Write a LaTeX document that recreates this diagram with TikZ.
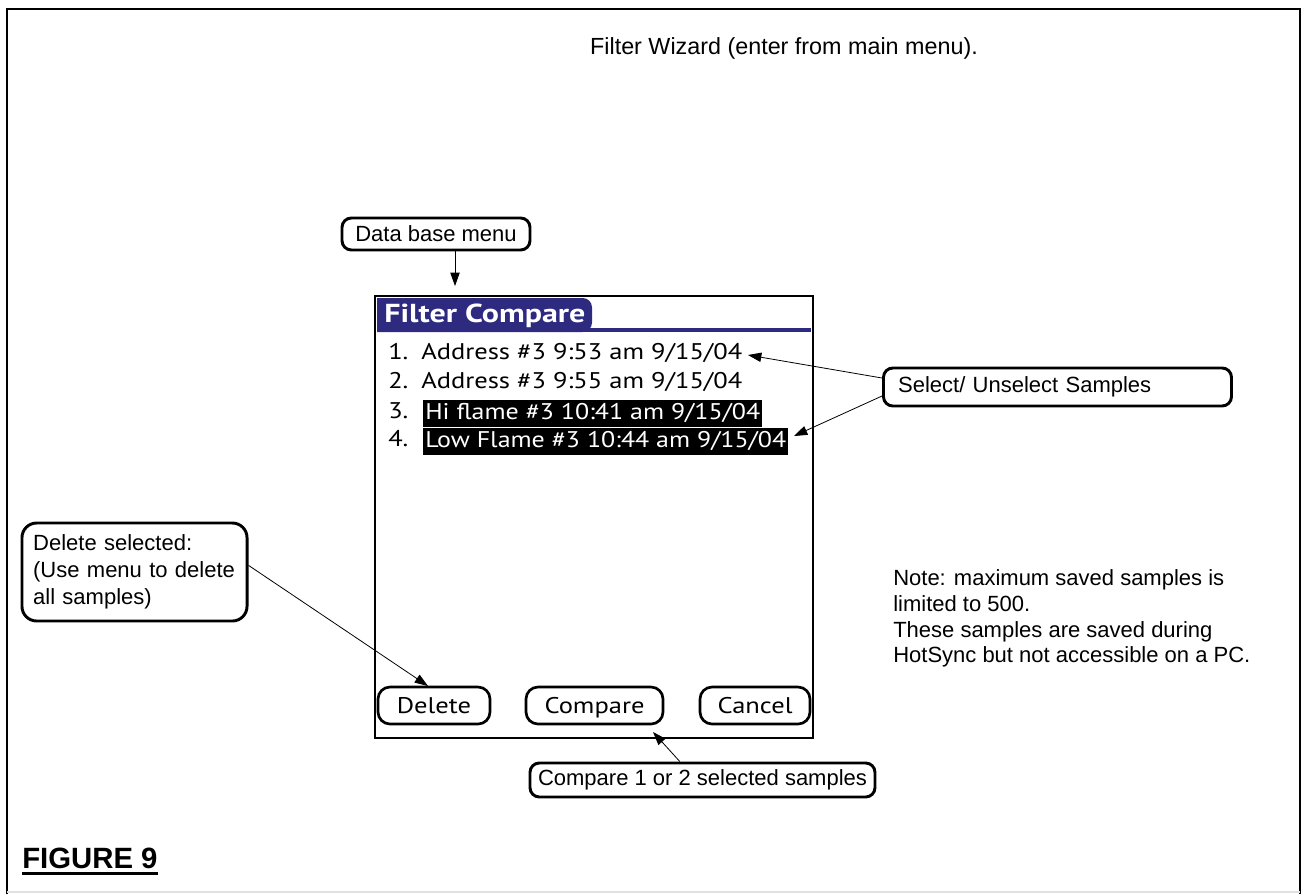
\documentclass[tikz,border=0pt]{standalone}
\usepackage{fontspec}
\setmainfont{Liberation Sans}
\newfontfamily\palmfont[FakeStretch=1.17]{PT Sans}
\newfontfamily\hlfont[FakeStretch=1.145]{PT Sans}
\newfontfamily\tabfont[FakeStretch=1.23]{PT Sans}
\usetikzlibrary{arrows.meta,calc}
\definecolor{tabblue}{HTML}{2E2A80}
\tikzset{
  callout/.style={draw, line width=2.2pt, rounded corners=7pt, inner sep=0pt,
    font=\fontsize{16.5}{19.5}\selectfont},
  plain/.style={inner sep=0pt, font=\fontsize{16.5}{19.5}\selectfont},
  arr/.style={line width=0.6pt, -{Triangle[length=10pt,width=7pt]}},
  palm/.style={inner sep=0pt, font=\palmfont\fontsize{17}{20}\selectfont, text height=12pt, text depth=3pt},
  hl/.style={inner sep=0pt, font=\hlfont\fontsize{17}{20}\selectfont, text height=12pt, text depth=3pt,
    fill=black, text=white, inner xsep=1.5pt, minimum height=20pt},
  btn/.style={draw, line width=2pt, rounded corners=9pt, inner sep=0pt, minimum height=27.75pt,
    text height=13pt, text depth=1.5pt, font=\palmfont\fontsize{17}{20}\selectfont},
}
\begin{document}
\begin{tikzpicture}[x=0.75pt,y=-0.75pt]
\useasboundingbox (0,0) rectangle (1303,894);
% outer frame
\draw[line width=2.2pt] (7,894) -- (7,9) -- (1300,9) -- (1300,894);
\draw[line width=1pt, black!12] (7,892) -- (1300,892);

% title
\node[plain, font=\fontsize{17.5}{20}\selectfont] (title) at (784,48) {Filter Wizard (enter from main menu).};

% data base menu
\node[callout, minimum width=141pt, minimum height=24pt] (db) at (436,234) {Data base menu};
\coordinate (dbtip) at (455,286);
\draw[arr] (db.south -| dbtip) -- (dbtip);

% phone screen
\node[draw, line width=2.2pt, minimum width=328.5pt, minimum height=331.5pt, inner sep=0pt] (screen) at (594,517) {};
\fill[tabblue] (377,332) -- (377,298) {[rounded corners=7pt] -- (592,298) -- (592,332)} -- cycle;
\fill[tabblue] (377,328) rectangle (811,332);
\node[anchor=west, inner sep=0pt, text=white, font=\tabfont\bfseries\fontsize{19.5}{22}\selectfont] (tab) at (384,316) {Filter Compare};

% rows
\node[palm, anchor=west] (n1) at (388,353) {1.};
\node[palm, anchor=west] (row1) at (421,353) {Address \#3 9:53 am 9/15/04};
\node[palm, anchor=west] (n2) at (388,382) {2.};
\node[palm, anchor=west] (row2) at (421,382) {Address \#3 9:55 am 9/15/04};
\node[palm, anchor=west] (n3) at (388,412) {3.};
\node[hl, anchor=west] (row3) at (423,413.5) {Hi flame \#3 10:41 am 9/15/04};
\node[palm, anchor=west] (n4) at (388,440) {4.};
\node[hl, anchor=west] (row4) at (423,441.5) {Low Flame \#3 10:44 am 9/15/04};

% buttons
\node[btn, minimum width=84pt] (delbtn) at (434,705.5) {Delete};
\node[btn, minimum width=102.75pt] (cmpbtn) at (594.5,705.5) {Compare};
\node[btn, minimum width=82.5pt] (canbtn) at (755,705.5) {Cancel};

% select / unselect
\node[callout, anchor=west, minimum height=28.5pt, text width=239pt, inner xsep=11pt, align=left] (sel) at (882,387) {Select/ Unselect Samples};
\coordinate (t1) at (748,355);
\coordinate (t2) at (794,436);
\draw[arr] ([yshift=6.75pt]sel.west) -- (t1);
\draw[arr] ([yshift=-6.75pt]sel.west) -- (t2);

% delete selected
\node[callout, minimum width=168.75pt, minimum height=73.5pt, text width=152pt, inner xsep=8.4pt, align=left, rounded corners=11pt, font=\fontsize{16.5}{20.3}\selectfont] (del) at (134.5,572) {Delete selected:\\(Use menu to delete\\all samples)};
\coordinate (t3) at (428,686);
\draw[arr] ([yshift=5pt]del.east) -- (t3);

% compare box
\node[callout, minimum width=258.75pt, minimum height=25.5pt] (cmp) at (702.5,780) {Compare 1 or 2 selected samples};
\coordinate (t4) at (653,732);
\draw[arr] ([xshift=-17pt]cmp.north) -- (t4);

% note
\node[plain, anchor=west, align=left, font=\fontsize{16.5}{19.3}\selectfont] (note) at (893,618.5) {Note: maximum saved samples is\\limited to 500.\\These samples are saved during\\HotSync but not accessible on a PC.};

% figure label
\node[anchor=base west, inner sep=0pt, font=\bfseries\fontsize{22}{24}\selectfont] (fig) at (22,868) {FIGURE 9};
\draw[line width=2.3pt] ([yshift=-4pt]fig.base west) -- ([yshift=-4pt]fig.base east);
\end{tikzpicture}
\end{document}
